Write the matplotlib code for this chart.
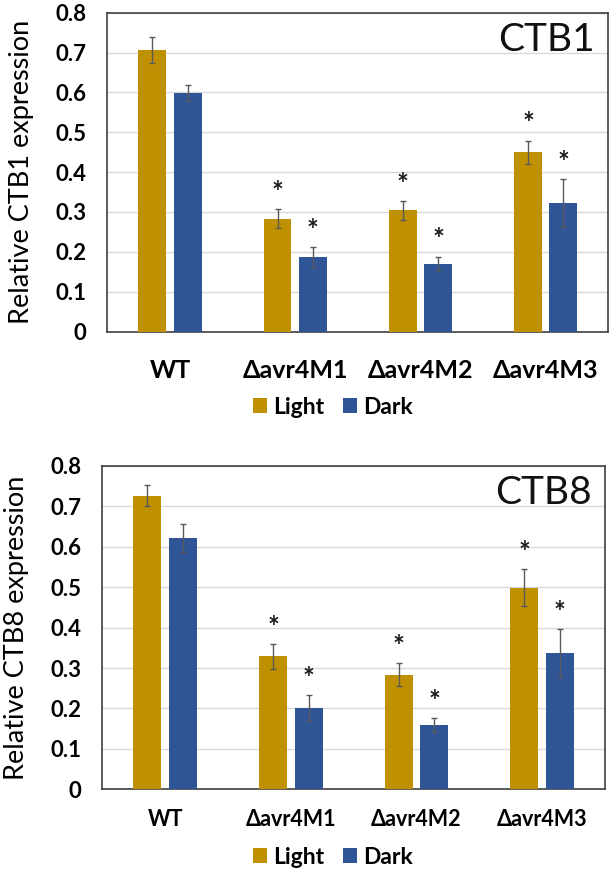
import matplotlib
matplotlib.use("Agg")
import matplotlib.pyplot as plt
import numpy as np
from matplotlib.patches import Patch

plt.rcParams['font.family'] = ['Lato', 'DejaVu Sans']

strains = ["WT", "Δavr4M1", "Δavr4M2", "Δavr4M3"]
series = ["Light", "Dark"]

ctb1_light = [0.707, 0.283, 0.304, 0.450]
ctb1_light_err = [0.032, 0.024, 0.024, 0.029]
ctb1_dark = [0.599, 0.187, 0.170, 0.322]
ctb1_dark_err = [0.020, 0.025, 0.018, 0.060]
ctb1_light_sig = [False, True, True, True]
ctb1_dark_sig = [False, True, True, True]

ctb8_light = [0.727, 0.329, 0.284, 0.499]
ctb8_light_err = [0.027, 0.031, 0.028, 0.046]
ctb8_dark = [0.622, 0.202, 0.160, 0.337]
ctb8_dark_err = [0.034, 0.032, 0.017, 0.059]
ctb8_light_sig = [False, True, True, True]
ctb8_dark_sig = [False, True, True, True]

yticks = [0, 0.1, 0.2, 0.3, 0.4, 0.5, 0.6, 0.7, 0.8]
ytick_labels = ["0", "0.1", "0.2", "0.3", "0.4", "0.5", "0.6", "0.7", "0.8"]

GOLD = "#BF9000"
BLUE = "#2F5597"
ERRC = "#595959"

fig = plt.figure(figsize=(6.14, 8.73), dpi=100)
W, H = 614, 873


def make_axes(left, right, top, bottom):
    return fig.add_axes([left / W, (H - bottom) / H, (right - left) / W, (bottom - top) / H])


def panel(ax, light, light_err, dark, dark_err, lsig, dsig, gene, xfs, xpad, legend_y, ylab_x):
    x = np.arange(len(strains))
    bw = 0.223
    off = 0.141
    ek = dict(ecolor=ERRC, elinewidth=1.0, capsize=2.5, capthick=1.0)
    ax.bar(x - off, light, bw, color=GOLD, yerr=light_err, error_kw=ek, zorder=3, label=series[0])
    ax.bar(x + off, dark, bw, color=BLUE, yerr=dark_err, error_kw=ek, zorder=3, label=series[1])
    for i in range(len(strains)):
        if lsig[i]:
            ax.text(x[i] - off, light[i] + light_err[i] + 0.008, "*", ha="center", va="bottom",
                    fontsize=20, fontweight="bold", color="#1a1a1a")
        if dsig[i]:
            ax.text(x[i] + off, dark[i] + dark_err[i] + 0.008, "*", ha="center", va="bottom",
                    fontsize=20, fontweight="bold", color="#1a1a1a")
    ax.set_xlim(-0.5, len(strains) - 0.5)
    ax.set_ylim(0, 0.8)
    ax.set_yticks(yticks)
    ax.set_yticklabels(ytick_labels, fontsize=16, fontweight="bold")
    ax.set_xticks(x)
    ax.set_xticklabels(strains, fontsize=xfs, fontweight="bold")
    ax.tick_params(axis="y", length=0, pad=15)
    ax.tick_params(axis="x", length=0, pad=xpad)
    ax.yaxis.grid(True, color="#D9D9D9", linewidth=1.0, zorder=0)
    ax.set_axisbelow(True)
    for s in ax.spines.values():
        s.set_color("#404040")
        s.set_linewidth(1.2)
    ax.set_ylabel(f"Relative {gene} expression", fontsize=19.5)
    ax.yaxis.set_label_coords(ylab_x, 0.5)
    ax.text(3.01, 0.732, gene, ha="center", va="center", fontsize=28, color="#111111")
    handles = [Patch(facecolor=GOLD, label=series[0]), Patch(facecolor=BLUE, label=series[1])]
    fig.legend(handles=handles, loc="center", bbox_to_anchor=(333 / W, (H - legend_y) / H),
               ncol=2, frameon=False, prop=dict(size=16.5, weight="bold"),
               handlelength=0.6, handleheight=0.6, handletextpad=0.3, columnspacing=0.8)


ax1 = make_axes(107.3, 608.3, 12.7, 331.5)
panel(ax1, ctb1_light, ctb1_light_err, ctb1_dark, ctb1_dark_err, ctb1_light_sig, ctb1_dark_sig,
      "CTB1", 18, 20, 407, -0.146)
ax2 = make_axes(102.3, 605, 466, 789.3)
panel(ax2, ctb8_light, ctb8_light_err, ctb8_dark, ctb8_dark_err, ctb8_light_sig, ctb8_dark_sig,
      "CTB8", 15.5, 14, 857, -0.146)

fig.savefig("out.png", dpi=100)
